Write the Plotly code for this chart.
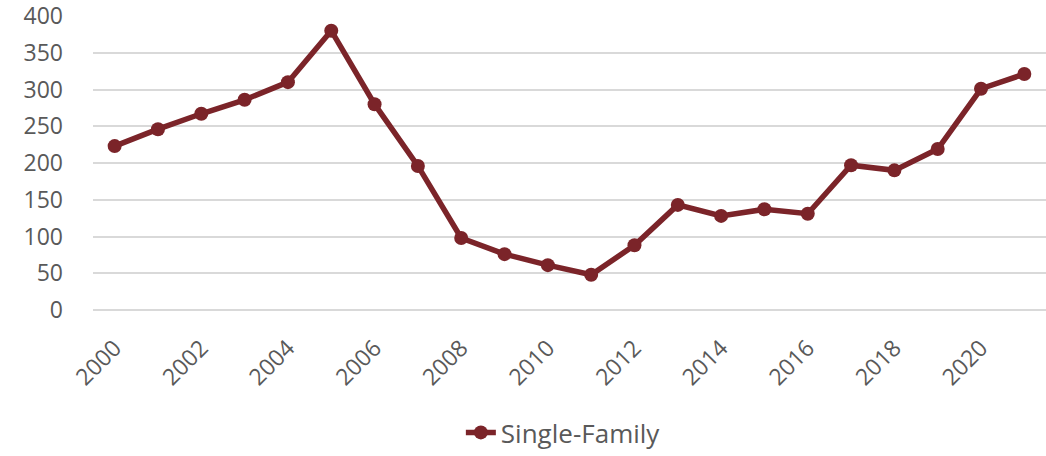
import plotly.graph_objects as go

years = [str(y) for y in range(2000, 2022)]
single_family = [223, 246, 267, 286, 310, 380, 280, 196, 98, 76, 61, 48, 88, 143, 128, 137, 131, 197, 190, 219, 301, 321]
tick_years = [str(y) for y in range(2000, 2022, 2)]
y_ticks = list(range(0, 401, 50))

color = "#7B2429"
text_color = "#595959"

fig = go.Figure()
fig.add_trace(go.Scatter(
    x=years, y=single_family, mode="lines+markers", name="Single-Family",
    line=dict(color=color, width=5.5),
    marker=dict(color=color, size=14),
))

fig.update_layout(
    width=1046, height=456,
    margin=dict(l=93, r=0, t=16, b=146),
    paper_bgcolor="white", plot_bgcolor="white",
    font=dict(family="Open Sans", size=23, color=text_color),
    showlegend=True,
    legend=dict(orientation="h", x=0.386, xanchor="left",
                yref="container", y=-0.016, yanchor="bottom",
                font=dict(size=26, color=text_color)),
)
fig.update_xaxes(
    type="category", range=[-0.5, 21.5], automargin=False,
    tickmode="array", tickvals=tick_years, ticktext=tick_years,
    tickangle=-45, showgrid=False, showline=False, ticks="",
    ticklabelstandoff=19, ticklabeloverflow="allow",
    tickfont=dict(size=23, color=text_color),
)
fig.update_yaxes(
    range=[0, 400], tickvals=y_ticks, showgrid=True, gridcolor="#D9D9D9", gridwidth=2,
    zeroline=True, zerolinecolor="#D9D9D9", zerolinewidth=2,
    showline=False, ticks="", automargin=False,
    ticklabelstandoff=29, ticklabeloverflow="allow",
    tickfont=dict(size=23, color=text_color),
)

fig.write_html("out.html", config={"displayModeBar": False},
               post_script="document.body.style.margin='0';")
